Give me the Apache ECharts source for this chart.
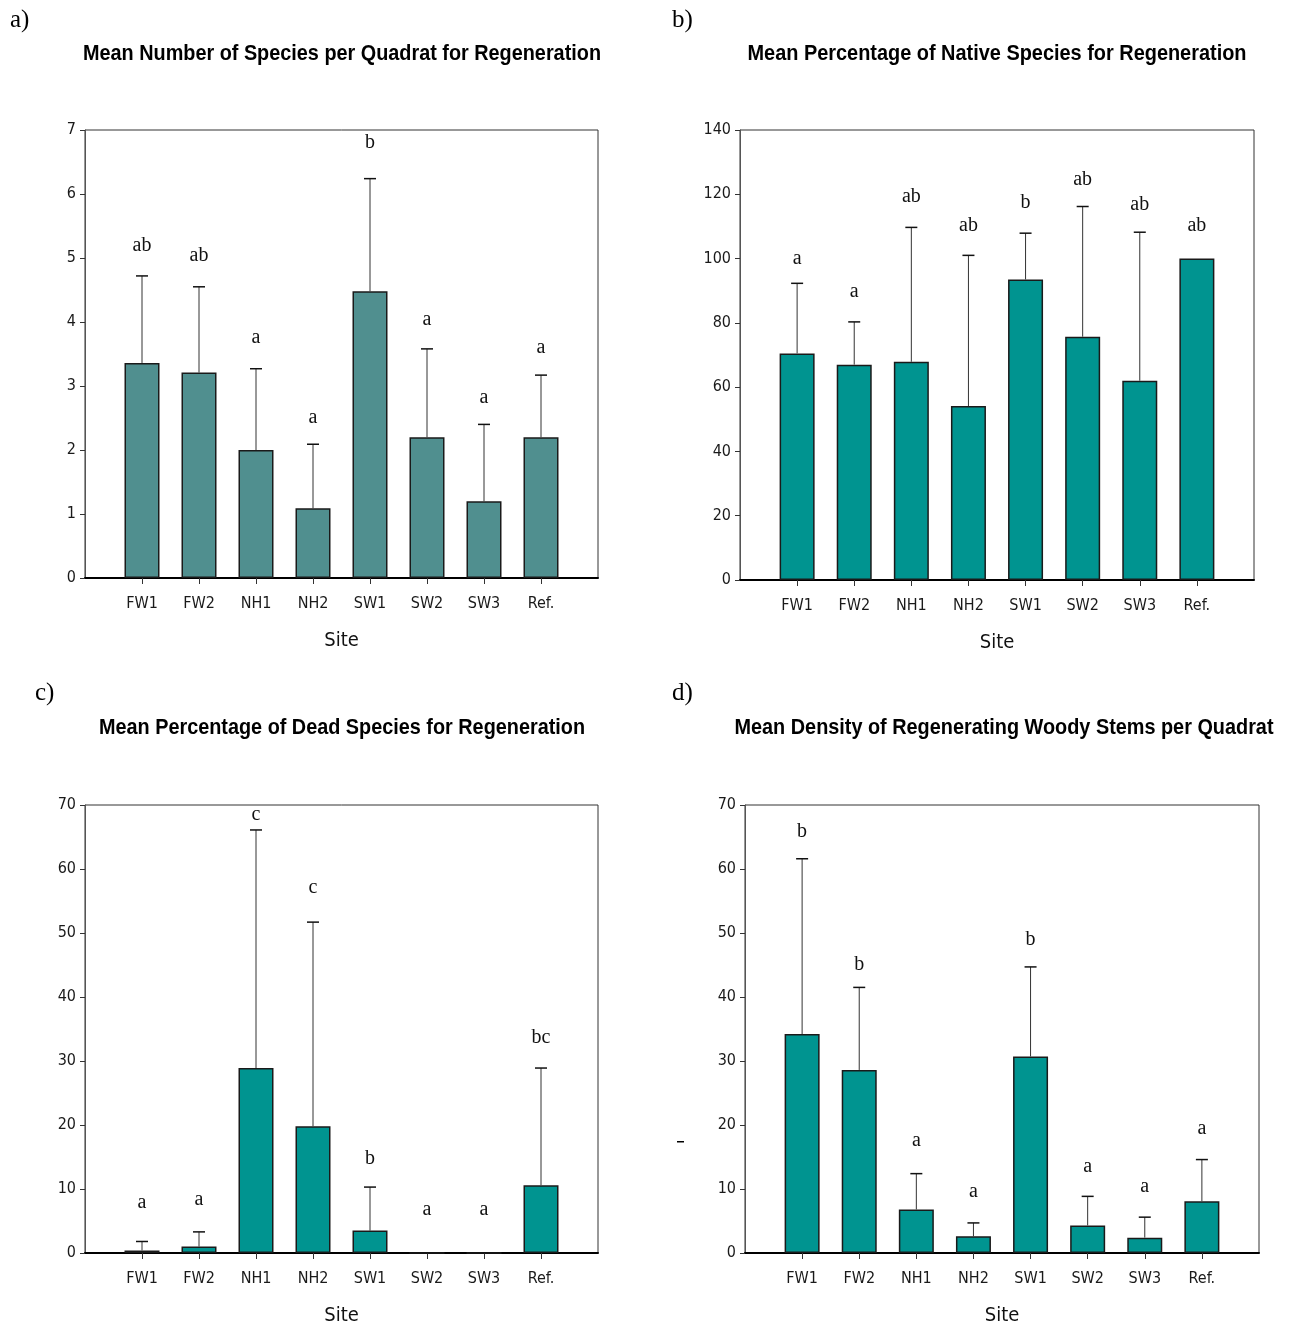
<!DOCTYPE html>
<html>
<head>
<meta charset="utf-8">
<script src="https://cdn.jsdelivr.net/npm/echarts@6/dist/echarts.min.js"></script>
<style>
  html, body { margin: 0; padding: 0; background: #fff; }
  #chart { width: 1295px; height: 1329px; }
</style>
</head>
<body>
<div id="chart"></div>
<script>
// Sites along every x axis
const sites = ['FW1', 'FW2', 'NH1', 'NH2', 'SW1', 'SW2', 'SW3', 'Ref.'];

// a) Mean number of species per quadrat
const speciesMean  = [3.36, 3.21, 2.00, 1.09, 4.48, 2.20, 1.20, 2.20];
const speciesUpper = [4.72, 4.55, 3.27, 2.09, 6.24, 3.58, 2.40, 3.17];
const speciesGroups = ['ab', 'ab', 'a', 'a', 'b', 'a', 'a', 'a'];
const speciesGroupAt = [5.19, 5.03, 3.75, 2.50, 6.80, 4.03, 2.82, 3.59];

// b) Mean percentage of native species
const nativeMean  = [70.5, 67.0, 67.9, 54.1, 93.5, 75.7, 62.0, 100];
const nativeUpper = [92.3, 80.3, 109.7, 101.0, 107.9, 116.2, 108.2, null];
const nativeGroups = ['a', 'a', 'ab', 'ab', 'b', 'ab', 'ab', 'ab'];
const nativeGroupAt = [99.8, 89.7, 119.2, 110.2, 117.5, 124.4, 116.6, 110.2];

// c) Mean percentage of dead species
const deadMean  = [0.4, 1.0, 28.9, 19.8, 3.5, 0, 0, 10.6];
const deadUpper = [1.8, 3.3, 66.1, 51.7, 10.3, null, null, 28.9];
const deadGroups = ['a', 'a', 'c', 'c', 'b', 'a', 'a', 'bc'];
const deadGroupAt = [7.8, 8.3, 68.5, 57.0, 14.8, 6.7, 6.7, 33.6];

// d) Mean density of regenerating woody stems
const stemsMean  = [34.2, 28.6, 6.8, 2.6, 30.7, 4.3, 2.4, 8.1];
const stemsUpper = [61.6, 41.5, 12.4, 4.7, 44.7, 8.85, 5.6, 14.6];
const stemsGroups = ['b', 'b', 'a', 'a', 'b', 'a', 'a', 'a'];
const stemsGroupAt = [65.8, 45.1, 17.5, 9.5, 48.9, 13.4, 10.4, 19.4];

// y-axis ranges
const yRanges = [
  { max: 7, interval: 1 },
  { max: 140, interval: 20 },
  { max: 70, interval: 10 },
  { max: 70, interval: 10 }
];

const titles = [
  'Mean Number of Species per Quadrat for Regeneration',
  'Mean Percentage of Native Species for Regeneration',
  'Mean Percentage of Dead Species for Regeneration',
  'Mean Density of Regenerating Woody Stems per Quadrat'
];
const panelTags = ['a)', 'b)', 'c)', 'd)'];

const panels = [
  { mean: speciesMean, upper: speciesUpper, groups: speciesGroups, groupAt: speciesGroupAt, color: '#508f8f' },
  { mean: nativeMean, upper: nativeUpper, groups: nativeGroups, groupAt: nativeGroupAt, color: '#009490' },
  { mean: deadMean, upper: deadUpper, groups: deadGroups, groupAt: deadGroupAt, color: '#009490' },
  { mean: stemsMean, upper: stemsUpper, groups: stemsGroups, groupAt: stemsGroupAt, color: '#009490' }
];

// Plot frames
const grids = [
  { left: 85,  top: 130, width: 513, height: 448 },
  { left: 740, top: 130, width: 514, height: 450 },
  { left: 85,  top: 805, width: 513, height: 448 },
  { left: 745, top: 805, width: 514, height: 448 }
];
// title centre and rendered width (condensed headline type)
const titleBox = [[342, 54, 518], [997, 54, 499], [342, 728, 486], [1004, 728, 539]];
const tagPos = [[10, 20], [672, 20], [35, 693], [672, 693]];

const narrow = '"DejaVu Sans Condensed", "Liberation Sans Narrow", "Arial Narrow", sans-serif';
const sans = '"Liberation Sans", Arial, sans-serif';
const serif = '"Liberation Serif", "DejaVu Serif", "Times New Roman", serif';
const titleFont = 'bold 22px ' + sans;

// horizontal squeeze so a headline fills its given width
const measureCtx = document.createElement('canvas').getContext('2d');
function squeezeFor(text, font, width) {
  measureCtx.font = font;
  return width / measureCtx.measureText(text).width;
}

// Axis categories padded with an empty slot at each end
const axisCats = [''].concat(sites, ['']);

const option = {
  backgroundColor: '#ffffff',
  animation: false,
  grid: grids.map(g => Object.assign({
    show: true, borderColor: '#333', borderWidth: 1, backgroundColor: 'transparent'
  }, g)),
  xAxis: grids.map((g, gi) => ({
    type: 'category',
    gridIndex: gi,
    data: axisCats,
    boundaryGap: false,
    name: 'Site',
    nameLocation: 'middle',
    nameGap: 53,
    nameTextStyle: { fontFamily: narrow, fontSize: 20, color: '#111' },
    axisLine: { lineStyle: { color: '#000', width: 2 } },
    axisTick: {
      show: true, length: 6,
      interval: (idx) => idx > 0 && idx <= sites.length,
      lineStyle: { color: '#333', width: 1 }
    },
    axisLabel: {
      interval: 0, margin: 18,
      fontFamily: narrow, fontSize: 16, color: '#1a1a1a'
    },
    splitLine: { show: false }
  })),
  yAxis: grids.map((g, gi) => ({
    type: 'value',
    gridIndex: gi,
    min: 0,
    max: yRanges[gi].max,
    interval: yRanges[gi].interval,
    axisLine: { show: true, lineStyle: { color: '#555', width: 1 } },
    axisTick: { show: true, length: 5, lineStyle: { color: '#333' } },
    axisLabel: { margin: 9, fontFamily: narrow, fontSize: 16, color: '#1a1a1a' },
    splitLine: { show: false }
  })),
  graphic: [],
  series: []
};

// Titles and panel tags
titles.forEach((t, i) => {
  option.graphic.push({
    type: 'text', x: titleBox[i][0], y: titleBox[i][1], silent: true,
    scaleX: squeezeFor(t, titleFont, titleBox[i][2]),
    style: {
      text: t, fill: '#000', font: titleFont,
      textAlign: 'center', textVerticalAlign: 'middle'
    }
  });
  option.graphic.push({
    type: 'text', x: tagPos[i][0], y: tagPos[i][1], silent: true,
    style: {
      text: panelTags[i], fill: '#000', font: '25px ' + serif,
      textAlign: 'left', textVerticalAlign: 'middle'
    }
  });
});

// small stray dash left of panel d's axis
option.graphic.push({
  type: 'rect', shape: { x: 677, y: 1141, width: 7, height: 1.5 }, silent: true,
  style: { fill: '#000' }
});

panels.forEach((p, gi) => {
  // bars
  option.series.push({
    type: 'bar',
    xAxisIndex: gi, yAxisIndex: gi,
    barWidth: 35,
    itemStyle: { color: p.color, borderColor: '#1a1a1a', borderWidth: 1.5 },
    data: p.mean.map((v, i) => [i + 1, v]),
    z: 2
  });
  // upper error bars
  const errData = [];
  p.upper.forEach((u, i) => { if (u != null) errData.push([i + 1, p.mean[i], u]); });
  option.series.push({
    type: 'custom',
    xAxisIndex: gi, yAxisIndex: gi,
    data: errData,
    encode: { x: 0, y: [1, 2] },
    z: 3,
    renderItem: (params, api) => {
      const lo = api.coord([api.value(0), api.value(1)]);
      const hi = api.coord([api.value(0), api.value(2)]);
      return {
        type: 'group',
        children: [
          { type: 'line', shape: { x1: lo[0], y1: lo[1], x2: hi[0], y2: hi[1] },
            style: { stroke: '#333', lineWidth: 1 } },
          { type: 'line', shape: { x1: hi[0] - 6, y1: hi[1], x2: hi[0] + 6, y2: hi[1] },
            style: { stroke: '#111', lineWidth: 1.5 } }
        ]
      };
    }
  });
  // significance group letters
  const groups = p.groups;
  option.series.push({
    type: 'custom',
    xAxisIndex: gi, yAxisIndex: gi,
    data: p.groupAt.map((y, i) => [i + 1, y]),
    encode: { x: 0, y: 1 },
    z: 4,
    renderItem: (params, api) => {
      const pt = api.coord([api.value(0), api.value(1)]);
      return {
        type: 'text', x: pt[0], y: pt[1],
        style: {
          text: groups[params.dataIndex], fill: '#111', font: '20px ' + serif,
          textAlign: 'center', textVerticalAlign: 'middle'
        }
      };
    }
  });
});

const chart = echarts.init(document.getElementById('chart'), null, { renderer: 'canvas' });
chart.setOption(option);
</script>
</body>
</html>
